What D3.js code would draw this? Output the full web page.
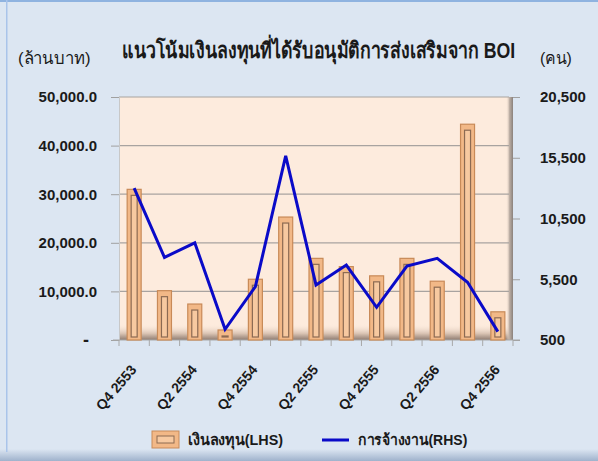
<!DOCTYPE html>
<html><head><meta charset="utf-8">
<script src="https://cdn.jsdelivr.net/npm/d3@7"></script>
<style>
body{margin:0;padding:0;background:#fff;}
svg{display:block;}
text{font-family:"Liberation Sans Narrow","Arial Narrow","Liberation Sans",Arial,sans-serif;}
</style></head>
<body>
<svg id="c" width="598" height="461"></svg>
<script>
const categories = ["Q4 2553","Q1 2554","Q2 2554","Q3 2554","Q4 2554","Q1 2555","Q2 2555","Q3 2555","Q4 2555","Q1 2556","Q2 2556","Q3 2556","Q4 2556"];
const investment = [31000,10150,7400,2060,12500,25300,16800,15100,13200,16800,12100,44400,5800];
const employment = [13000,7300,8500,1380,4900,15650,5030,6670,3190,6590,7220,5250,1190];
const leftTicks = [0,10000,20000,30000,40000,50000];
const rightTicks = [500,5500,10500,15500,20500];
const xLabelCats = ["Q4 2553","Q2 2554","Q4 2554","Q2 2555","Q4 2555","Q2 2556","Q4 2556"];
const title = "แนวโน้มเงินลงทุนที่ได้รับอนุมัติการส่งเสริมจาก BOI";
const leftUnit = "(ล้านบาท)", rightUnit = "(คน)";
const legendBar = "เงินลงทุน(LHS)", legendLine = "การจ้างงาน(RHS)";

const svg = d3.select("#c");
const W=598,H=461;
const defs = svg.append("defs");
const bg = defs.append("linearGradient").attr("id","bgBottom").attr("x1",0).attr("y1",0).attr("x2",0).attr("y2",1);
bg.append("stop").attr("offset","0").attr("stop-color","#dce6f2");
bg.append("stop").attr("offset","1").attr("stop-color","#9fb2cc");
svg.append("rect").attr("x",0).attr("y",0).attr("width",W).attr("height",H).attr("fill","#dce6f2");
svg.append("rect").attr("x",0).attr("y",449).attr("width",W).attr("height",12).attr("fill","url(#bgBottom)");
svg.append("rect").attr("x",0).attr("y",0).attr("width",W).attr("height",2).attr("fill","#8fb3e0");
svg.append("rect").attr("x",6).attr("y",0).attr("width",1.5).attr("height",452).attr("fill","#a9c4ea");

const x0=119, x1=513, yTop=97, yBot=340;
const x = d3.scaleBand().domain(categories).range([x0,x1]).padding(0);
const yL = d3.scaleLinear().domain([0,50000]).range([yBot,yTop]);
const yR = d3.scaleLinear().domain([500,20500]).range([yBot,yTop]);

svg.append("rect").attr("x",x0).attr("y",yTop).attr("width",x1-x0).attr("height",yBot-yTop).attr("fill","#fdebdd");
const fl = defs.append("linearGradient").attr("id","floor").attr("x1",0).attr("y1",0).attr("x2",0).attr("y2",1);
fl.append("stop").attr("offset","0").attr("stop-color","#fdebdd").attr("stop-opacity",0);
fl.append("stop").attr("offset","0.6").attr("stop-color","#d8c2b2");
fl.append("stop").attr("offset","1").attr("stop-color","#8e7b70");
svg.append("rect").attr("x",x0).attr("y",yBot-16).attr("width",x1-x0).attr("height",16).attr("fill","url(#floor)");
const wl = defs.append("linearGradient").attr("id","wall").attr("x1",0).attr("y1",0).attr("x2",1).attr("y2",0);
wl.append("stop").attr("offset","0").attr("stop-color","#fdebdd").attr("stop-opacity",0);
wl.append("stop").attr("offset","0.5").attr("stop-color","#bcaea4");
wl.append("stop").attr("offset","1").attr("stop-color","#8a817c");
svg.append("rect").attr("x",x1-7).attr("y",yTop).attr("width",7).attr("height",yBot-yTop).attr("fill","url(#wall)");

svg.append("g").selectAll("line").data(leftTicks.filter(d=>d>0)).join("line")
  .attr("x1",x0).attr("x2",x1-4).attr("y1",d=>yL(d)).attr("y2",d=>yL(d))
  .attr("stroke","#a8a3a0").attr("stroke-width",1.2);

const gL = svg.append("g").attr("transform",`translate(${x0},0)`)
  .call(d3.axisLeft(yL).tickValues(leftTicks).tickSize(8).tickPadding(14)
    .tickFormat(d=>d===0?"-":d3.format(",.1f")(d)));
gL.select(".domain").attr("stroke","#c8c8c8");
gL.selectAll(".tick line").attr("stroke","#a0a0a0");
gL.selectAll("text").attr("font-size",15).attr("font-weight","bold").attr("fill","#1a1a1a");
gL.selectAll(".tick").filter(d=>d===0).select("text").attr("font-size",18).attr("dx",-8);

const gR = svg.append("g").attr("transform",`translate(${x1},0)`)
  .call(d3.axisRight(yR).tickValues(rightTicks).tickSize(7).tickPadding(20)
    .tickFormat(d3.format(",")));
gR.select(".domain").attr("stroke","none");
gR.selectAll(".tick line").attr("stroke","#a0a0a0");
gR.selectAll("text").attr("font-size",15).attr("font-weight","bold").attr("fill","#1a1a1a");

const gB = svg.append("g").attr("transform",`translate(0,${yBot})`);
gB.append("line").attr("x1",x0-6).attr("x2",x1+7).attr("y1",0).attr("y2",0).attr("stroke","#a8a8a8").attr("stroke-width",1.2);
const bounds = categories.map(c=>x(c)).concat([x1]);
gB.selectAll("line.t").data(bounds).join("line").attr("class","t")
  .attr("x1",d=>d).attr("x2",d=>d).attr("y1",0).attr("y2",6).attr("stroke","#a8a8a8");
gB.selectAll("text").data(xLabelCats).join("text")
  .attr("transform",d=>`translate(${x(d)+x.bandwidth()/2+3},${30}) rotate(-50)`)
  .attr("text-anchor","end").attr("font-size",14).attr("font-weight","bold").attr("fill","#1a1a1a")
  .text(d=>d);

const bw=14;
const bars = svg.append("g").selectAll("g").data(categories).join("g");
bars.append("rect")
  .attr("x",(d)=>x(d)+x.bandwidth()/2-bw/2).attr("width",bw)
  .attr("y",(d,i)=>yL(investment[i])).attr("height",(d,i)=>yBot-yL(investment[i]))
  .attr("fill","#f2b887").attr("stroke","#c88a58").attr("stroke-width",1.2);
bars.append("rect")
  .attr("x",(d)=>x(d)+x.bandwidth()/2-bw/2+4).attr("width",bw-8)
  .attr("y",(d,i)=>yL(investment[i])+6).attr("height",(d,i)=>Math.max(0,yBot-yL(investment[i])-9))
  .attr("fill","#f7c9a0").attr("stroke","#8c6a52").attr("stroke-width",1.2);

const line = d3.line().x((d,i)=>x(categories[i])+x.bandwidth()/2).y(d=>yR(d));
svg.append("path").datum(employment).attr("d",line).attr("fill","none")
  .attr("stroke","#0a0ac8").attr("stroke-width",3).attr("stroke-linejoin","miter");

// fitted text: squeeze horizontally with a scale transform to a target width
function fitText(str, xPos, yPos, width, size, weight){
  const t = svg.append("text").attr("font-size",size).attr("font-weight",weight).attr("fill","#1a1a1a").text(str);
  const w = t.node().getComputedTextLength();
  const s = Math.min(1, width / w);
  t.attr("transform",`translate(${xPos},${yPos}) scale(${s},1)`);
  return t;
}
fitText(title, 122, 58, 392, 22, "bold");
fitText(leftUnit, 18, 64, 74, 17, "normal");
fitText(rightUnit, 540, 64, 32, 17, "normal");

const lg = svg.append("g");
lg.append("rect").attr("x",152).attr("y",431).attr("width",27).attr("height",17).attr("fill","#f2b887").attr("stroke","#c88a58");
lg.append("rect").attr("x",157).attr("y",436).attr("width",17).attr("height",7).attr("fill","#f7c9a0").attr("stroke","#8c6a52");
fitText(legendBar, 188, 445, 94, 15, "bold");
lg.append("line").attr("x1",322).attr("x2",349).attr("y1",440).attr("y2",440).attr("stroke","#0a0ac8").attr("stroke-width",3);
fitText(legendLine, 358, 445, 108, 15, "bold");
</script>
</body></html>
